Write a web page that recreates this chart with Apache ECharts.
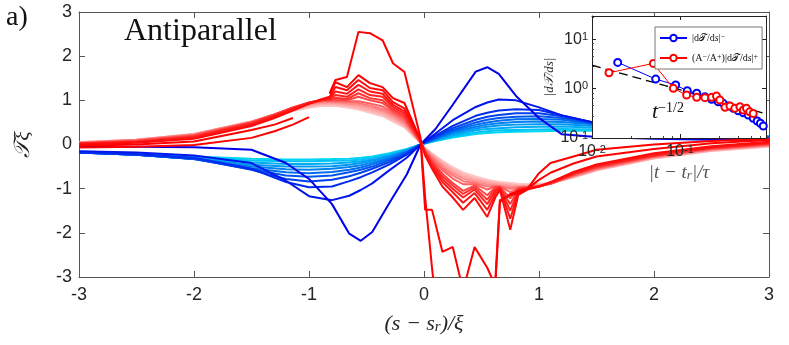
<!DOCTYPE html>
<html>
<head>
<meta charset="utf-8">
<script src="https://cdn.jsdelivr.net/npm/echarts@6/dist/echarts.min.js"></script>
<style>
html, body { margin: 0; padding: 0; background: #fff; }
#chart { width: 789px; height: 345px; }
</style>
</head>
<body>
<div id="chart"></div>
<script>
// main panel, blue family (shared x grid)
var xBlue = [-3, -2.5, -2, -1.5, -1.2, -1, -0.8, -0.65, -0.55, -0.45, -0.3, -0.15, -0.03, 0.1, 0.25, 0.45, 0.55, 0.65, 0.8, 1, 1.2, 1.5, 2, 2.5, 3];
var blue1 = [-0.05, -0.05, -0.06, -0.12, -0.42, -0.78, -1.35, -2.02, -2.18, -1.98, -1.32, -0.68, 0, 0.35, 0.9, 1.65, 1.75, 1.6, 1.1, 0.6, 0.23, 0.17, 0.13, 0.11, 0.1];
var blue2 = [-0.15, -0.18, -0.25, -0.42, -0.82, -1.17, -1.26, -1.16, -1.03, -0.88, -0.58, -0.3, 0, 0.25, 0.55, 0.85, 0.95, 1.02, 1.0, 0.84, 0.66, 0.48, 0.3, 0.2, 0.12];
var blue3 = [-0.18, -0.22, -0.3, -0.55, -0.85, -0.97, -0.95, -0.83, -0.74, -0.63, -0.45, -0.23, 0, 0.2, 0.42, 0.65, 0.72, 0.77, 0.8, 0.78, 0.66, 0.48, 0.32, 0.22, 0.14];
var blue4 = [-0.18, -0.23, -0.32, -0.57, -0.78, -0.84, -0.8, -0.72, -0.64, -0.55, -0.4, -0.2, 0, 0.17, 0.37, 0.56, 0.63, 0.67, 0.71, 0.71, 0.64, 0.48, 0.33, 0.23, 0.15];
var blue5 = [-0.18, -0.23, -0.33, -0.56, -0.7, -0.73, -0.7, -0.63, -0.57, -0.5, -0.36, -0.18, 0, 0.15, 0.33, 0.5, 0.56, 0.6, 0.63, 0.64, 0.6, 0.47, 0.33, 0.23, 0.15];
var blue6 = [-0.18, -0.23, -0.33, -0.54, -0.63, -0.65, -0.62, -0.57, -0.52, -0.45, -0.33, -0.17, 0, 0.13, 0.3, 0.45, 0.5, 0.54, 0.57, 0.58, 0.56, 0.46, 0.33, 0.23, 0.16];
var blue7 = [-0.18, -0.23, -0.33, -0.5, -0.56, -0.57, -0.55, -0.51, -0.47, -0.41, -0.3, -0.15, 0, 0.12, 0.27, 0.4, 0.45, 0.48, 0.51, 0.52, 0.51, 0.45, 0.33, 0.24, 0.17];
var blue8 = [-0.18, -0.23, -0.32, -0.46, -0.5, -0.5, -0.49, -0.46, -0.42, -0.37, -0.27, -0.14, 0, 0.11, 0.24, 0.36, 0.4, 0.43, 0.45, 0.46, 0.46, 0.42, 0.32, 0.24, 0.17];
var blue9 = [-0.17, -0.22, -0.31, -0.41, -0.44, -0.44, -0.43, -0.41, -0.38, -0.34, -0.25, -0.13, 0, 0.1, 0.21, 0.32, 0.35, 0.37, 0.39, 0.4, 0.41, 0.38, 0.31, 0.24, 0.18];
var blue10 = [-0.17, -0.21, -0.29, -0.36, -0.38, -0.38, -0.37, -0.36, -0.34, -0.3, -0.22, -0.12, 0, 0.09, 0.18, 0.27, 0.3, 0.32, 0.33, 0.34, 0.35, 0.34, 0.29, 0.23, 0.18];
var blue11 = [-0.16, -0.2, -0.27, -0.32, -0.34, -0.34, -0.33, -0.32, -0.3, -0.27, -0.2, -0.1, 0, 0.08, 0.16, 0.24, 0.26, 0.28, 0.29, 0.3, 0.31, 0.31, 0.27, 0.22, 0.18];

// main panel, red family (null = gap in the curve)
var xRed = [-3, -2.5, -2, -1.5, -1.3, -1.14, -1.0, -0.9, -0.82, -0.77, -0.67, -0.57, -0.47, -0.36, -0.27, -0.17, -0.03, 0.01, 0.07, 0.16, 0.25, 0.34, 0.44, 0.55, 0.62, 0.66, 0.75, 0.82, 0.9, 1.0, 1.1, 1.3, 1.5, 2, 2.5, 3];
var red1 = [-0.07, -0.05, -0.01, 0.15, 0.3, 0.45, 0.62, null, 1.16, 1.46, 1.53, 2.55, 2.52, 2.36, 1.84, 1.64, 0.15, -1.2, -2.8, -5, -5, -5, -5, -5, -3.1, -1.26, -1.15, -1.1, -1.0, -0.65, -0.42, -0.27, -0.12, 0.0, 0.08, 0.13];
var red2 = [-0.03, 0.0, 0.07, 0.33, 0.45, 0.6, null, null, 1.15, 1.41, 1.3, 1.57, 1.39, 1.3, 1.05, 0.94, 0.1, -1.48, -1.48, -2.43, -2.32, -3.3, -2.32, -2.79, -3.2, -1.3, -1.12, -1.05, -1.0, -0.8, -0.64, -0.43, -0.27, -0.1, 0.03, 0.1];
var red3 = [0.0, 0.04, 0.13, 0.42, 0.6, 0.77, 0.92, 1.02, 1.08, 1.3, 1.23, 1.46, 1.28, 1.23, 0.96, 0.82, 0.1, -0.25, -0.55, -0.95, -1.2, -1.48, -1.21, -1.64, -1.2, -1.03, -1.93, -1.14, -1.02, -0.95, -0.85, -0.62, -0.45, -0.2, -0.04, 0.06];
var red4 = [0.0, 0.05, 0.15, 0.45, 0.63, 0.8, 0.93, 1.0, 1.05, 1.2, 1.15, 1.35, 1.2, 1.15, 0.9, 0.75, 0.1, -0.22, -0.5, -0.85, -1.08, -1.32, -1.1, -1.48, -1.12, -1.0, -1.68, -1.08, -1.0, -0.95, -0.86, -0.64, -0.47, -0.22, -0.06, 0.04];
var red5 = [0.02, 0.06, 0.17, 0.47, 0.65, 0.82, 0.94, 1.0, 1.03, 1.12, 1.08, 1.25, 1.12, 1.08, 0.85, 0.7, 0.08, -0.2, -0.45, -0.78, -1.0, -1.2, -1.02, -1.35, -1.05, -0.98, -1.5, -1.04, -0.99, -0.95, -0.87, -0.66, -0.49, -0.24, -0.07, 0.03];
var red6 = [0.02, 0.07, 0.18, 0.48, 0.66, 0.83, 0.95, 1.0, 1.02, 1.06, 1.03, 1.16, 1.05, 1.0, 0.8, 0.65, 0.07, -0.18, -0.42, -0.72, -0.93, -1.12, -0.97, -1.25, -1.0, -0.97, -1.35, -1.01, -0.98, -0.95, -0.88, -0.67, -0.5, -0.25, -0.08, 0.02];
var red7 = [0.03, 0.08, 0.2, 0.5, 0.68, 0.84, 0.95, 1.0, 1.01, 1.02, 1.0, 1.08, 1.0, 0.94, 0.76, 0.6, 0.06, -0.16, -0.38, -0.66, -0.87, -1.05, -0.93, -1.15, -0.97, -0.96, -1.22, -0.99, -0.97, -0.95, -0.88, -0.68, -0.52, -0.26, -0.09, 0.01];
var red8 = [0.03, 0.09, 0.21, 0.5, 0.68, 0.84, 0.94, 0.98, 0.99, 0.99, 0.98, 0.98, 0.93, 0.86, 0.72, 0.56, 0.05, -0.15, -0.34, -0.58, -0.77, -0.9, -0.9, -1.02, -0.95, -0.95, -1.08, -0.98, -0.96, -0.94, -0.89, -0.7, -0.53, -0.27, -0.1, 0.0];
var red9 = [0.04, 0.1, 0.22, 0.51, 0.68, 0.83, 0.93, 0.97, 0.98, 0.97, 0.96, 0.94, 0.88, 0.8, 0.68, 0.52, 0.05, -0.13, -0.3, -0.53, -0.7, -0.83, -0.87, -0.95, -0.94, -0.95, -1.0, -0.97, -0.96, -0.94, -0.89, -0.71, -0.55, -0.28, -0.11, -0.01];
var red10 = [0.04, 0.1, 0.23, 0.52, 0.68, 0.82, 0.91, 0.95, 0.96, 0.95, 0.93, 0.9, 0.84, 0.76, 0.64, 0.48, 0.04, -0.11, -0.27, -0.48, -0.65, -0.77, -0.84, -0.9, -0.92, -0.93, -0.96, -0.96, -0.95, -0.93, -0.89, -0.72, -0.56, -0.29, -0.12, -0.02];
var red11 = [0.05, 0.11, 0.24, 0.52, 0.67, 0.8, 0.89, 0.93, 0.94, 0.93, 0.9, 0.86, 0.8, 0.72, 0.6, 0.45, 0.04, -0.1, -0.24, -0.44, -0.6, -0.72, -0.8, -0.86, -0.89, -0.9, -0.93, -0.94, -0.94, -0.92, -0.88, -0.73, -0.57, -0.3, -0.13, -0.03];
var red12 = [0.05, 0.11, 0.24, 0.51, 0.66, 0.78, 0.86, 0.9, 0.91, 0.9, 0.87, 0.82, 0.76, 0.68, 0.56, 0.42, 0.04, -0.09, -0.22, -0.4, -0.55, -0.67, -0.76, -0.83, -0.86, -0.88, -0.9, -0.92, -0.92, -0.91, -0.88, -0.74, -0.58, -0.31, -0.14, -0.04];
var red13 = [0.05, 0.11, 0.23, 0.5, 0.64, 0.76, 0.83, 0.87, 0.88, 0.87, 0.84, 0.79, 0.72, 0.64, 0.52, 0.39, 0.03, -0.08, -0.2, -0.37, -0.51, -0.63, -0.72, -0.8, -0.83, -0.85, -0.87, -0.89, -0.9, -0.89, -0.87, -0.74, -0.59, -0.32, -0.15, -0.05];

// inset: |dT/ds| against |t - t_r|/tau
var insetBlueX = [0.0196, 0.053, 0.0894, 0.121, 0.155, 0.192, 0.229, 0.272, 0.31, 0.354, 0.404, 0.459, 0.525, 0.597, 0.68, 0.755, 0.82, 0.885];
var insetBlueY = [3.43, 1.57, 1.19, 0.91, 0.81, 0.69, 0.61, 0.545, 0.506, 0.446, 0.4, 0.358, 0.326, 0.293, 0.251, 0.221, 0.199, 0.175];
var insetRedX = [0.0156, 0.0498, 0.084, 0.119, 0.155, 0.192, 0.229, 0.26, 0.284, 0.325, 0.37, 0.42, 0.48, 0.525, 0.57, 0.62, 0.68];
var insetRedY = [2.11, 3.27, 1.02, 0.745, 0.67, 0.66, 0.67, 0.71, 0.59, 0.42, 0.446, 0.4, 0.43, 0.37, 0.4, 0.34, 0.315];
var slopeX = [0.01, 0.95];
var slopeY = [3.0, 0.31];

var blueCurves = [blue1, blue2, blue3, blue4, blue5, blue6, blue7, blue8, blue9, blue10, blue11];
var redCurves = [red1, red2, red3, red4, red5, red6, red7, red8, red9, red10, red11, red12, red13];
var redFade = [0, 0, 0.05, 0.1, 0.15, 0.22, 0.3, 0.42, 0.52, 0.62, 0.72, 0.8, 0.88];

function pairs(xs, ys) {
  return xs.map(function(x, i) {
    return [x, ys[i] === null ? '-' : ys[i]];
  });
}

function mix(a, b, t) {
  return 'rgb(' + a.map(function(v, i) {
    return Math.round(v + (b[i] - v) * t);
  }).join(',') + ')';
}

var series = [];
// lightest first so the dark curves sit on top
for (var i = blueCurves.length - 1; i >= 0; i--) {
  series.push({
    type: 'line', xAxisIndex: 0, yAxisIndex: 0,
    data: pairs(xBlue, blueCurves[i]),
    symbol: 'none', clip: true, silent: true,
    lineStyle: { color: mix([0, 0, 235], [0, 215, 245], i / (blueCurves.length - 1)), width: 2 }
  });
}
for (var j = redCurves.length - 1; j >= 0; j--) {
  series.push({
    type: 'line', xAxisIndex: 0, yAxisIndex: 0,
    data: pairs(xRed, redCurves[j]),
    symbol: 'none', clip: true, silent: true, connectNulls: false,
    lineStyle: { color: mix([255, 0, 0], [255, 225, 225], redFade[j]), width: 2 }
  });
}

series.push({
  name: 'slope', type: 'line', xAxisIndex: 2, yAxisIndex: 2, z: 10,
  data: pairs(slopeX, slopeY), symbol: 'none', silent: true,
  lineStyle: { color: '#000', width: 1.3, type: [9, 5] }
});
series.push({
  name: 'minus', type: 'line', xAxisIndex: 2, yAxisIndex: 2, z: 11,
  data: pairs(insetBlueX, insetBlueY),
  symbol: 'emptyCircle', symbolSize: 7, silent: true,
  lineStyle: { color: '#0000ff', width: 1 },
  itemStyle: { color: '#0000ff', borderColor: '#0000ff', borderWidth: 1 }
});
series.push({
  name: 'plus', type: 'line', xAxisIndex: 2, yAxisIndex: 2, z: 12,
  data: pairs(insetRedX, insetRedY),
  symbol: 'emptyCircle', symbolSize: 7, silent: true,
  lineStyle: { color: '#ff0000', width: 1 },
  itemStyle: { color: '#ff0000', borderColor: '#ff0000', borderWidth: 1 }
});

var axisGray = '#555';
var serif = 'Liberation Serif, DejaVu Serif, serif';

// label only the exact decades
function logLabel(v) {
  var l = Math.log(v) / Math.LN10;
  var e = Math.round(l);
  if (Math.abs(l - e) > 1e-6) return '';
  return '{b|10}{s|' + e + '}';
}
var logRich = {
  b: { fontSize: 16, fontFamily: 'Liberation Sans', color: '#262626' },
  s: { fontSize: 11, fontFamily: 'Liberation Sans', color: '#262626', verticalAlign: 'top', lineHeight: 10 }
};

var option = {
  animation: false,
  backgroundColor: '#fff',
  grid: [
    { left: 79, top: 12, right: 20, bottom: 68 },
    { left: 592, top: 16, width: 174, height: 122, show: true, backgroundColor: '#fff', borderWidth: 0, z: 5 }
  ],
  xAxis: [
    {
      gridIndex: 0, type: 'value', min: -3, max: 3, interval: 1,
      axisLine: { onZero: false, lineStyle: { color: axisGray } },
      axisTick: { inside: true, length: 6, lineStyle: { color: axisGray } },
      axisLabel: { color: '#262626', fontSize: 18, fontFamily: 'Liberation Sans', margin: 9 },
      splitLine: { show: false },
      name: '{t|(s − s}{sub|r}{t|)/ξ}', nameLocation: 'middle', nameGap: 36,
      nameTextStyle: {
        rich: {
          t: { fontSize: 22, fontFamily: serif, fontStyle: 'italic', color: '#262626' },
          sub: { fontSize: 15, fontFamily: serif, fontStyle: 'italic', color: '#262626', verticalAlign: 'bottom', lineHeight: 18 }
        }
      }
    },
    {
      gridIndex: 0, type: 'value', min: -3, max: 3, interval: 1, position: 'top',
      axisLine: { onZero: false, lineStyle: { color: axisGray } },
      axisTick: { inside: true, length: 6, lineStyle: { color: axisGray } },
      axisLabel: { show: false }, splitLine: { show: false }
    },
    {
      gridIndex: 1, type: 'log', logBase: 10, min: 0.01, max: 0.95, z: 10,
      axisLine: { onZero: false, lineStyle: { color: '#222' } },
      axisTick: { inside: true, length: 4, lineStyle: { color: '#222' } },
      minorTick: { show: true, splitNumber: 5, length: 2, lineStyle: { color: '#444' } },
      axisLabel: { formatter: logLabel, rich: logRich, margin: 6 },
      splitLine: { show: false },
      name: '{t||t − t}{sub|r}{t||/τ}', nameLocation: 'middle', nameGap: 25,
      nameTextStyle: {
        rich: {
          t: { fontSize: 19, fontFamily: serif, fontStyle: 'italic', color: '#555' },
          sub: { fontSize: 13, fontFamily: serif, fontStyle: 'italic', color: '#555', verticalAlign: 'bottom', lineHeight: 16 }
        }
      }
    },
    {
      gridIndex: 1, type: 'log', logBase: 10, min: 0.01, max: 0.95, position: 'top', z: 10,
      axisLine: { onZero: false, lineStyle: { color: '#222' } },
      axisTick: { inside: true, length: 4, lineStyle: { color: '#222' } },
      axisLabel: { show: false }, splitLine: { show: false }
    }
  ],
  yAxis: [
    {
      gridIndex: 0, type: 'value', min: -3, max: 3, interval: 1,
      axisLine: { onZero: false, lineStyle: { color: axisGray } },
      axisTick: { inside: true, length: 6, lineStyle: { color: axisGray } },
      axisLabel: { color: '#262626', fontSize: 18, fontFamily: 'Liberation Sans', margin: 7 },
      splitLine: { show: false },
      name: '𝒯ξ', nameLocation: 'middle', nameGap: 45, nameRotate: 90,
      nameTextStyle: { fontSize: 22, fontFamily: serif, fontStyle: 'italic', color: '#262626' }
    },
    {
      gridIndex: 0, type: 'value', min: -3, max: 3, interval: 1, position: 'right',
      axisLine: { onZero: false, lineStyle: { color: axisGray } },
      axisTick: { inside: true, length: 6, lineStyle: { color: axisGray } },
      axisLabel: { show: false }, splitLine: { show: false }
    },
    {
      gridIndex: 1, type: 'log', logBase: 10, min: 0.1, max: 30, z: 10,
      axisLine: { onZero: false, lineStyle: { color: '#222' } },
      axisTick: { inside: true, length: 4, lineStyle: { color: '#222' } },
      minorTick: { show: true, splitNumber: 5, length: 2, lineStyle: { color: '#444' } },
      axisLabel: { formatter: logLabel, rich: logRich, margin: 4 },
      splitLine: { show: false },
      name: '|d𝒯/ds|', nameLocation: 'middle', nameGap: 31, nameRotate: 90,
      nameTextStyle: { fontSize: 13, fontFamily: serif, fontStyle: 'italic', color: '#262626' }
    },
    {
      gridIndex: 1, type: 'log', logBase: 10, min: 0.1, max: 30, position: 'right', z: 10,
      axisLine: { onZero: false, lineStyle: { color: '#222' } },
      axisTick: { inside: true, length: 4, lineStyle: { color: '#222' } },
      axisLabel: { show: false }, splitLine: { show: false }
    }
  ],
  legend: {
    data: ['minus', 'plus'],
    orient: 'vertical', left: 655, top: 27, z: 20,
    backgroundColor: '#fff', borderColor: '#777', borderWidth: 1,
    padding: [6, 4, 6, 4], itemGap: 10, itemWidth: 27, itemHeight: 8,
    formatter: function(name) {
      if (name === 'minus') return '|d𝒯/d{i|s}|{s|−}';
      return '(A{s|−}/A{s|+})|d𝒯/d{i|s}|{s|+}';
    },
    textStyle: {
      fontSize: 10, fontFamily: serif, color: '#111',
      rich: {
        i: { fontSize: 10, fontFamily: serif, fontStyle: 'italic', color: '#111' },
        s: { fontSize: 8, fontFamily: serif, color: '#111', verticalAlign: 'top', lineHeight: 8 }
      }
    }
  },
  graphic: [
    {
      type: 'text', left: 6, top: 4, z: 20,
      style: { text: 'a)', font: '28px ' + serif, fill: '#111' }
    },
    {
      type: 'text', left: 124, top: 16, z: 20,
      style: { text: 'Antiparallel', font: '32px ' + serif, fill: '#111' }
    },
    {
      type: 'text', left: 652, top: 101, z: 20,
      style: {
        text: '{t|t}{s|−1/2}',
        rich: {
          t: { fontSize: 22, fontFamily: serif, fontStyle: 'italic', fill: '#111' },
          s: { fontSize: 14, fontFamily: serif, fill: '#111', verticalAlign: 'top', lineHeight: 12 }
        }
      }
    }
  ],
  series: series
};

var myChart = echarts.init(document.getElementById('chart'));
myChart.setOption(option);
</script>
</body>
</html>
